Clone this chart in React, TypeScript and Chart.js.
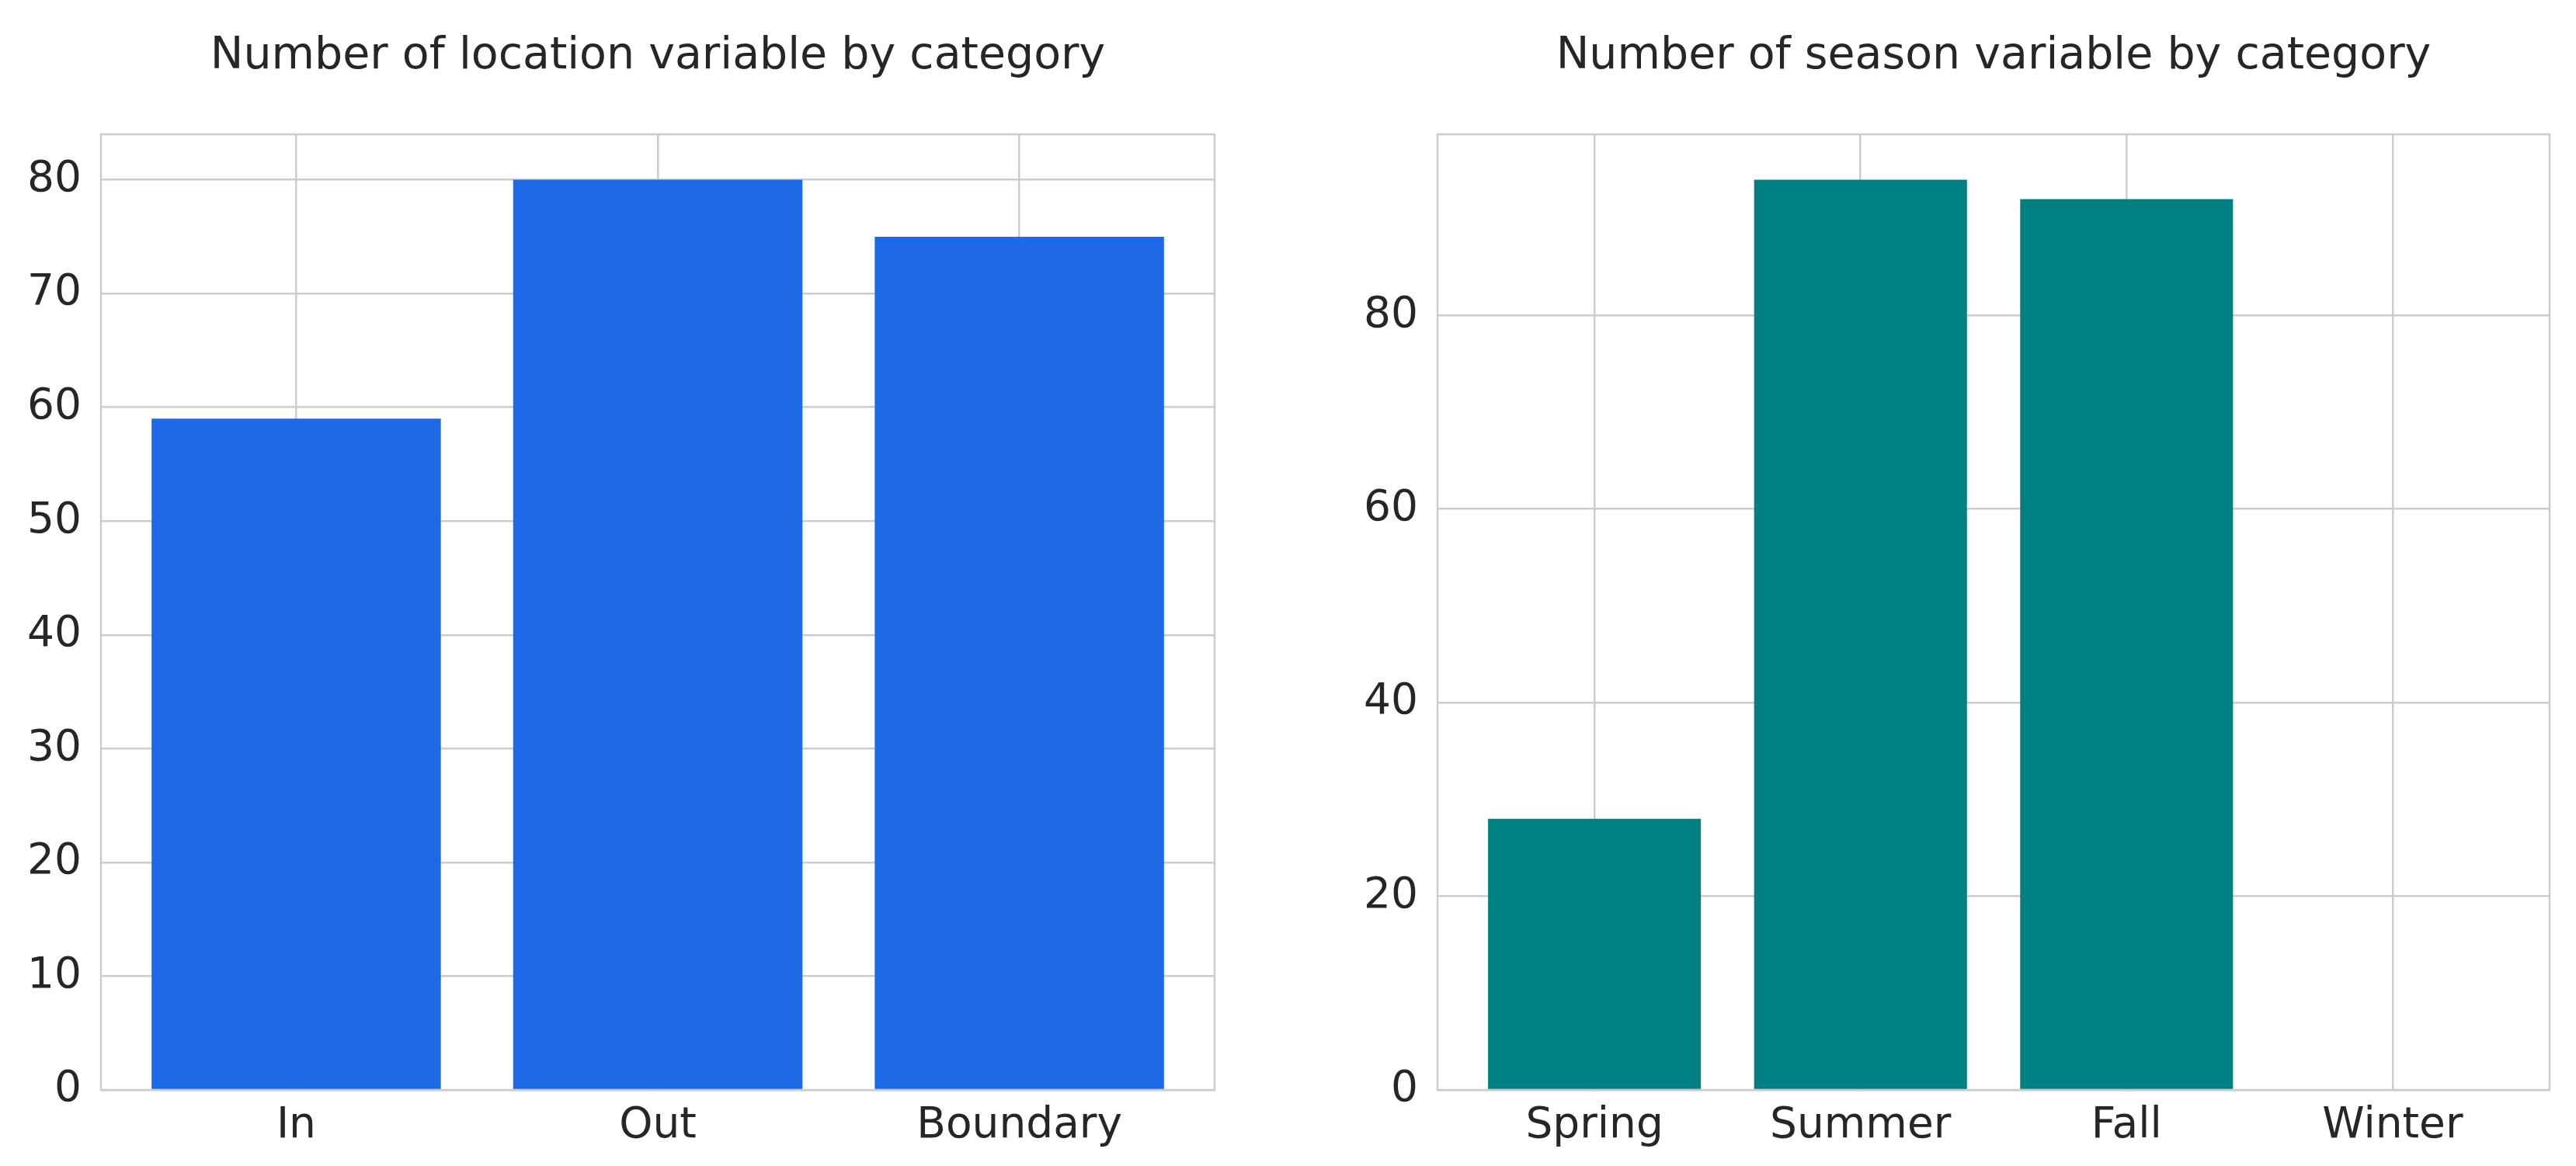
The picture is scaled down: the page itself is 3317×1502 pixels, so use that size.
import React, { useEffect, useRef } from 'react';
import { Chart, registerables } from 'chart.js';

Chart.register(...registerables);

// ---- Data ----
const locationCategories = ['In', 'Out', 'Boundary'];
const locationCounts = [59, 80, 75];
const locationYTicks = [0, 10, 20, 30, 40, 50, 60, 70, 80];
const locationTitle = 'Number of location variable by category';

const seasonCategories = ['Spring', 'Summer', 'Fall', 'Winter'];
const seasonCounts = [28, 94, 92, 0];
const seasonYTicks = [0, 20, 40, 60, 80];
const seasonTitle = 'Number of season variable by category';

const TEXT = '#262626';
const GRID = '#cccccc';
const FONT = 'DejaVu Sans';

const framePlugin = {
  id: 'frame',
  beforeDatasetsDraw(chart: any) {
    const { ctx, chartArea: a } = chart;
    ctx.save();
    ctx.strokeStyle = GRID;
    ctx.lineWidth = 2.5;
    ctx.strokeRect(a.left, a.top, a.right - a.left, a.bottom - a.top);
    ctx.restore();
  },
};

type PanelProps = {
  left: number;
  width: number;
  categories: string[];
  values: number[];
  color: string;
  title: string;
  yTicks: number[];
  axisWidth: number;
  rightPad: number;
};

function BarPanel(p: PanelProps) {
  const ref = useRef<HTMLCanvasElement>(null);
  useEffect(() => {
    const n = p.categories.length;
    const pad = 0.05 * (n - 1 + 0.8);
    const yMax = Math.max(...p.values) * 1.05;
    const chart = new Chart(ref.current!, {
      type: 'bar',
      data: {
        datasets: [
          {
            data: p.values.map((v, i) => ({ x: i, y: v })),
            backgroundColor: p.color,
            borderWidth: 0,
            barPercentage: 0.8,
            categoryPercentage: 1,
          } as any,
        ],
      },
      options: {
        responsive: false,
        animation: false,
        devicePixelRatio: 1,
        layout: { padding: { left: 0, right: p.rightPad, top: 0, bottom: 0 } },
        plugins: {
          legend: { display: false },
          tooltip: { enabled: false },
          title: {
            display: true,
            text: p.title,
            fullSize: false,
            color: TEXT,
            font: { family: FONT, size: 57, weight: 'normal', lineHeight: 1 },
            padding: { top: 45, bottom: 71 },
          },
        },
        scales: {
          x: {
            type: 'linear',
            min: -0.4 - pad,
            max: n - 1 + 0.4 + pad,
            offset: false,
            afterBuildTicks: (s: any) => {
              s.ticks = p.categories.map((_, i) => ({ value: i }));
            },
            afterFit: (s: any) => {
              s.height = 98;
            },
            grid: { color: GRID, lineWidth: 2.5, drawTicks: false, offset: false },
            border: { display: false },
            ticks: {
              color: TEXT,
              font: { family: FONT, size: 55 },
              padding: 14,
              autoSkip: false,
              maxRotation: 0,
              callback: (v: any) => p.categories[Math.round(Number(v))] ?? '',
            },
          },
          y: {
            min: 0,
            max: yMax,
            afterBuildTicks: (s: any) => {
              s.ticks = p.yTicks.map((v) => ({ value: v }));
            },
            afterFit: (s: any) => {
              s.width = p.axisWidth;
            },
            grid: { color: GRID, lineWidth: 2.5, drawTicks: false },
            border: { display: false },
            ticks: {
              color: TEXT,
              font: { family: FONT, size: 55 },
              padding: 25,
              autoSkip: false,
            },
          },
        },
      } as any,
      plugins: [framePlugin],
    });
    return () => chart.destroy();
  }, []);
  return (
    <canvas
      ref={ref}
      width={p.width}
      height={1502}
      style={{ position: 'absolute', left: p.left, top: 0, width: p.width, height: 1502 }}
    />
  );
}

export default function App() {
  return (
    <div style={{ position: 'absolute', left: 0, top: 0, width: 3317, height: 1502, background: '#ffffff' }}>
      <BarPanel
        left={0}
        width={1700}
        categories={locationCategories}
        values={locationCounts}
        color="#1e69e5"
        title={locationTitle}
        yTicks={locationYTicks}
        axisWidth={130}
        rightPad={136}
      />
      <BarPanel
        left={1700}
        width={1617}
        categories={seasonCategories}
        values={seasonCounts}
        color="#008080"
        title={seasonTitle}
        yTicks={seasonYTicks}
        axisWidth={151}
        rightPad={34}
      />
    </div>
  );
}
